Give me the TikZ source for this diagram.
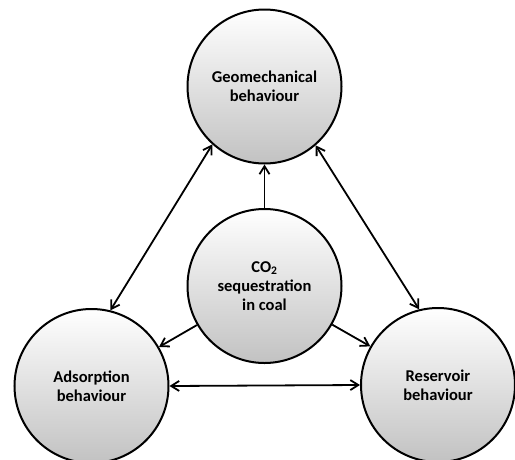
\documentclass[tikz,border=0pt]{standalone}
\usepackage{fontspec}
\setmainfont{Carlito}
\usetikzlibrary{arrows.meta}
\begin{document}
\begin{tikzpicture}[x=1pt,y=-1pt,
  bubble/.style={circle,draw=black,line width=2pt,minimum size=154pt,inner sep=0pt,
    top color=white,bottom color=black!24,align=center,
    font=\fontsize{16.5}{19}\selectfont\bfseries},
  tip/.tip={Straight Barb[length=8pt,width=10pt,line width=1.8pt]},
  link/.style={line width=1.8pt,tip-tip},
  flow/.style={line width=1.8pt,-tip}]
\useasboundingbox (0,0) rectangle (515,459);
\node[bubble] (geo) at (264.5,86.5) {Geomechanical\\behaviour};
\node[bubble] (co2) at (264.5,286) {CO\textsubscript{2}\\sequestration\\in coal};
\node[bubble] (ads) at (91.5,386) {Adsorption\\behaviour};
\node[bubble] (res) at (438,385) {Reservoir\\behaviour};
\draw[flow] (co2) -- (geo);
\draw[flow] (co2) -- (ads);
\draw[flow] (co2) -- (res);
\draw[link] (ads.76) -- (geo.228.6);
\draw[link] (geo.311.4) -- (res.104.6);
\draw[link] (ads.east) -- (res.west);
\end{tikzpicture}
\end{document}
